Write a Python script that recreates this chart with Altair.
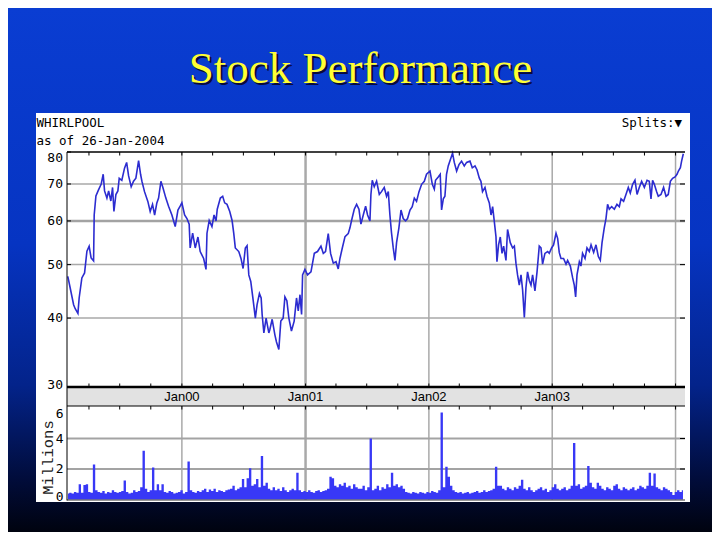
import altair as alt
import pandas as pd

# ---------------- data ----------------
# price trace: decimal year and closing price (USD)
price_t = [
    1999.075, 1999.094, 1999.122, 1999.135, 1999.157, 1999.167, 1999.189, 1999.211, 1999.230, 1999.248,
    1999.264, 1999.284, 1999.289, 1999.303, 1999.324, 1999.346, 1999.362, 1999.373, 1999.392, 1999.406,
    1999.424, 1999.438, 1999.449, 1999.465, 1999.481, 1999.492, 1999.513, 1999.535, 1999.552, 1999.568,
    1999.589, 1999.608, 1999.627, 1999.649, 1999.665, 1999.676, 1999.697, 1999.724, 1999.743, 1999.762,
    1999.779, 1999.797, 1999.811, 1999.830, 1999.846, 1999.870, 1999.892, 1999.919, 1999.946, 1999.968,
    1999.986, 2000.000, 2000.022, 2000.041, 2000.059, 2000.067, 2000.087, 2000.108, 2000.130, 2000.148,
    2000.176, 2000.195, 2000.203, 2000.221, 2000.243, 2000.260, 2000.276, 2000.286, 2000.311, 2000.330,
    2000.346, 2000.365, 2000.387, 2000.406, 2000.419, 2000.432, 2000.460, 2000.478, 2000.495, 2000.513,
    2000.527, 2000.541, 2000.557, 2000.573, 2000.594, 2000.608, 2000.627, 2000.641, 2000.649, 2000.663,
    2000.681, 2000.703, 2000.711, 2000.730, 2000.752, 2000.765, 2000.784, 2000.800, 2000.819, 2000.833,
    2000.849, 2000.865, 2000.886, 2000.908, 2000.927, 2000.941, 2000.955, 2000.968, 2000.976, 2000.995,
    2001.016, 2001.044, 2001.071, 2001.097, 2001.125, 2001.144, 2001.162, 2001.184, 2001.203, 2001.225,
    2001.247, 2001.265, 2001.279, 2001.298, 2001.320, 2001.346, 2001.360, 2001.373, 2001.395, 2001.414,
    2001.433, 2001.449, 2001.468, 2001.487, 2001.503, 2001.522, 2001.530, 2001.541, 2001.557, 2001.576,
    2001.598, 2001.616, 2001.638, 2001.657, 2001.671, 2001.684, 2001.697, 2001.711, 2001.725, 2001.738,
    2001.757, 2001.774, 2001.792, 2001.811, 2001.827, 2001.847, 2001.865, 2001.882, 2001.900, 2001.920,
    2001.941, 2001.963, 2001.981, 2002.009, 2002.028, 2002.044, 2002.054, 2002.076, 2002.092, 2002.098,
    2002.103, 2002.117, 2002.130, 2002.143, 2002.157, 2002.176, 2002.192, 2002.206, 2002.225, 2002.244,
    2002.265, 2002.287, 2002.306, 2002.333, 2002.352, 2002.374, 2002.390, 2002.409, 2002.422, 2002.435,
    2002.455, 2002.471, 2002.490, 2002.504, 2002.517, 2002.530, 2002.544, 2002.552, 2002.565, 2002.579,
    2002.593, 2002.606, 2002.625, 2002.638, 2002.660, 2002.679, 2002.693, 2002.706, 2002.719, 2002.733,
    2002.747, 2002.760, 2002.774, 2002.787, 2002.800, 2002.814, 2002.828, 2002.841, 2002.860, 2002.877,
    2002.895, 2002.909, 2002.922, 2002.941, 2002.963, 2002.976, 2002.995, 2003.011, 2003.031, 2003.044,
    2003.057, 2003.071, 2003.092, 2003.112, 2003.125, 2003.147, 2003.165, 2003.179, 2003.190, 2003.201,
    2003.220, 2003.233, 2003.246, 2003.266, 2003.282, 2003.301, 2003.315, 2003.336, 2003.355, 2003.374,
    2003.390, 2003.404, 2003.422, 2003.436, 2003.449, 2003.463, 2003.482, 2003.504, 2003.525, 2003.544,
    2003.558, 2003.579, 2003.598, 2003.617, 2003.633, 2003.652, 2003.671, 2003.688, 2003.706, 2003.725,
    2003.747, 2003.769, 2003.787, 2003.801, 2003.814, 2003.828, 2003.847, 2003.860, 2003.882, 2003.903,
    2003.923, 2003.941, 2003.958, 2003.976, 2003.996, 2004.012, 2004.023, 2004.039, 2004.049, 2004.063,
]
price_v = [
    47.6, 45.4, 42.3, 41.6, 40.8, 43.5, 47.3, 48.3, 52.9, 54.0,
    51.4, 50.8, 61.5, 66.6, 68.3, 70.0, 72.9, 68.0, 66.0, 68.0,
    65.2, 69.0, 62.4, 67.0, 68.0, 71.7, 71.1, 74.8, 76.6, 72.4,
    69.2, 70.8, 71.7, 77.2, 72.9, 70.8, 67.8, 65.1, 62.4, 64.3,
    61.5, 64.7, 66.0, 70.8, 69.0, 66.0, 63.8, 61.5, 58.6, 62.8,
    63.8, 64.7, 61.5, 60.6, 59.2, 53.6, 57.0, 53.6, 56.1, 52.8,
    51.3, 49.0, 57.0, 60.1, 58.6, 61.5, 60.0, 63.0, 66.0, 66.5,
    64.7, 64.3, 62.4, 60.1, 57.1, 53.6, 52.8, 51.3, 49.2, 53.6,
    54.1, 47.9, 46.6, 43.7, 40.0, 42.3, 44.3, 43.5, 40.6, 37.6,
    40.0, 37.6, 38.1, 39.8, 37.3, 36.2, 35.1, 39.5, 40.0, 43.7,
    43.0, 40.0, 37.9, 39.5, 43.5, 41.2, 44.1, 40.6, 47.9, 49.0,
    47.9, 48.5, 52.4, 52.8, 54.0, 52.4, 52.8, 56.9, 52.4, 50.3,
    50.6, 49.1, 51.3, 53.6, 56.2, 56.9, 58.3, 60.1, 63.0, 64.3,
    63.0, 59.2, 61.5, 63.8, 61.5, 60.0, 67.0, 71.1, 69.2, 70.8,
    67.0, 67.8, 69.0, 66.5, 67.8, 61.5, 57.1, 53.6, 50.9, 54.8,
    58.3, 62.8, 60.6, 60.0, 60.6, 62.8, 63.7, 66.0, 65.1, 67.8,
    69.9, 70.8, 72.9, 73.9, 69.9, 68.5, 71.1, 72.1, 72.9, 67.0,
    62.8, 65.8, 66.5, 72.9, 75.5, 77.7, 79.6, 76.6, 73.9, 75.9,
    77.0, 75.5, 76.6, 77.0, 74.9, 75.5, 74.3, 71.7, 70.8, 67.8,
    69.0, 66.5, 64.7, 61.5, 63.7, 60.0, 56.2, 50.6, 54.3, 56.1,
    52.4, 54.0, 50.9, 57.9, 54.8, 53.6, 54.0, 50.3, 47.9, 45.9,
    47.9, 45.0, 40.1, 45.4, 48.5, 46.8, 45.9, 47.9, 44.8, 48.5,
    54.0, 53.6, 50.1, 52.4, 52.8, 52.4, 53.6, 54.3, 57.0, 55.8,
    52.6, 51.3, 51.3, 50.1, 50.9, 49.7, 47.4, 45.9, 43.7, 47.9,
    50.6, 49.7, 52.4, 51.3, 53.6, 52.8, 54.3, 52.6, 54.3, 51.7,
    50.9, 54.8, 58.3, 60.6, 64.3, 63.0, 63.7, 63.0, 64.3, 63.7,
    65.8, 65.1, 67.0, 69.0, 67.4, 69.9, 71.1, 67.0, 69.0, 70.8,
    69.0, 71.1, 70.8, 65.8, 71.1, 69.9, 67.8, 66.5, 67.0, 69.0,
    66.5, 67.0, 70.8, 71.7, 72.1, 72.9, 73.9, 74.9, 77.0, 79.4,
]

# weekly trading volume (millions of shares), first week ending 1999-01-29
volume = [
    0.4, 0.45, 0.4, 0.5, 0.45, 1.0, 0.45, 0.95, 1.0, 0.5, 0.45, 2.3, 0.6,
    0.5, 0.45, 0.55, 0.4, 0.5, 0.45, 0.6, 0.5, 0.45, 0.5, 0.55, 1.25, 0.5,
    0.4, 0.45, 0.6, 0.5, 0.55, 0.8, 3.2, 0.7, 0.5, 0.6, 2.1, 0.6, 1.0,
    0.6, 1.0, 0.5, 0.45, 0.55, 0.5, 0.4, 0.45, 0.5, 0.6, 0.4, 0.5, 2.5,
    0.6, 0.5, 0.45, 0.55, 0.5, 0.6, 0.7, 0.5, 0.65, 0.55, 0.7, 0.5, 0.6,
    0.55, 0.5, 0.6, 0.65, 0.7, 0.9, 0.6, 0.7, 0.8, 1.35, 0.8, 1.4, 2.05,
    0.9, 1.0, 1.35, 0.8, 2.85, 0.9, 1.1, 0.7, 0.6, 0.8, 0.6, 0.7, 0.55,
    0.8, 0.6, 0.5, 0.6, 0.7, 0.6, 1.75, 0.6, 0.5, 0.55, 0.5, 0.6, 0.5,
    0.45, 0.55, 0.6, 0.5, 0.55, 0.6, 0.7, 1.5, 1.4, 0.9, 0.8, 1.0, 0.9,
    1.1, 0.8, 0.9, 0.7, 1.0, 0.8, 0.7, 0.7, 0.9, 0.6, 0.8, 4.0, 0.6,
    0.7, 0.9, 0.6, 0.8, 0.7, 1.0, 0.8, 1.75, 0.9, 1.0, 0.8, 0.9, 0.7,
    0.5, 0.45, 0.4, 0.5, 0.45, 0.4, 0.5, 0.45, 0.4, 0.5, 0.45, 0.55, 0.5,
    0.45, 0.6, 5.7, 0.8, 2.15, 1.5, 0.9, 0.6, 0.5, 0.45, 0.5, 0.4, 0.45,
    0.5, 0.4, 0.45, 0.5, 0.55, 0.45, 0.5, 0.6, 0.5, 0.55, 0.6, 0.7, 2.15,
    0.9, 0.9, 0.7, 0.6, 0.8, 0.7, 0.6, 0.8, 0.7, 0.9, 1.3, 0.7, 0.6,
    0.8, 0.6, 0.5, 0.6, 0.7, 0.8, 0.6, 0.7, 0.5, 0.6, 0.8, 1.0, 0.7,
    0.6, 0.7, 0.8, 0.6, 0.7, 0.9, 3.7, 0.9, 1.0, 0.7, 0.8, 0.9, 2.2,
    1.1, 0.8, 0.7, 1.1, 0.9, 0.7, 0.6, 0.8, 0.7, 0.6, 0.9, 1.0, 0.7,
    0.6, 0.8, 0.7, 0.6, 0.7, 0.8, 0.6, 0.7, 0.9, 0.8, 0.7, 0.9, 1.75,
    0.9, 1.7, 0.8, 0.7, 0.6, 0.8, 0.7, 0.6, 0.5, 0.3, 0.5, 0.6, 0.5,
    0.6,
]

price_ticks = [80, 70, 60, 50, 40, 30]
price_grid = [70, 50, 40]
price_grid_major = [60]
volume_ticks = [0, 2, 4, 6]
volume_grid = [2, 4]
year_dates = ["2000-01-01", "2001-01-01", "2002-01-01", "2003-01-01", "2004-01-01"]
year_labels = ["Jan00", "Jan01", "Jan02", "Jan03"]

TITLE = "Stock Performance"
TICKER = "WHIRLPOOL"
ASOF = "as of 26-Jan-2004"
SPLITS = "Splits:\u25bc"

# ---------------- tables ----------------
def dec_to_iso(t):
    y = int(t)
    nd = 366 if y % 4 == 0 else 365
    ts = pd.Timestamp(year=y, month=1, day=1) + pd.Timedelta(days=(t - y) * nd)
    return ts.strftime("%Y-%m-%dT%H:%M:%SZ")

price_df = pd.DataFrame({"date": [dec_to_iso(t) for t in price_t], "price": price_v})
vol_dates = pd.date_range("1999-01-29", periods=len(volume), freq="7D").strftime("%Y-%m-%dT00:00:00Z")
vol_df = pd.DataFrame({"date": list(vol_dates), "vol": volume})
quarters = pd.date_range("1999-04-01", "2004-01-01", freq="QS").strftime("%Y-%m-%dT00:00:00Z")
q_df = pd.DataFrame({"date": list(quarters)})
year_df = pd.DataFrame({"date": [d + "T00:00:00Z" for d in year_dates]})
year_df["major"] = [d.startswith("2001") for d in year_dates]
lab_df = pd.DataFrame({"date": [d + "T00:00:00Z" for d in year_dates[:4]], "label": year_labels})
one = pd.DataFrame({"k": [0]})

W, H = 704, 524
PX0, PX1 = 59, 677          # plot left / right
PY0, PY1 = 144, 379         # price panel top / bottom
BY1 = 398                   # band bottom
VY1 = 491.5                 # volume zero line

xscale = alt.Scale(domain=[alt.DateTime(year=1999, month=1, date=26, utc=True),
                           alt.DateTime(year=2004, month=1, date=29, utc=True)],
                   range=[PX0, PX1])
pscale = alt.Scale(type="log", domain=[30, 80], range=[PY1, PY0])
vscale = alt.Scale(domain=[0, 6], range=[VY1, 400])

X = lambda: alt.X("date:T", scale=xscale, axis=None)

# ---------------- decoration ----------------
bg = alt.Chart(one).mark_rect(
    color={"gradient": "linear", "x1": 0, "y1": 0, "x2": 0, "y2": 1,
           "stops": [{"offset": 0, "color": "#0a3dd2"},
                     {"offset": 0.45, "color": "#0634c2"},
                     {"offset": 0.72, "color": "#03238a"},
                     {"offset": 0.9, "color": "#010c3a"},
                     {"offset": 1, "color": "#00030f"}]}
).encode(x=alt.value(0), x2=alt.value(W), y=alt.value(0), y2=alt.value(H))

title_shadow = alt.Chart(one).mark_text(
    text=TITLE, font="Liberation Serif", fontSize=45, color="#0a0a3a",
    align="center", baseline="alphabetic", dx=2, dy=2
).encode(x=alt.value(352.5), y=alt.value(75))
title = alt.Chart(one).mark_text(
    text=TITLE, font="Liberation Serif", fontSize=45, color="#ffff33",
    align="center", baseline="alphabetic"
).encode(x=alt.value(352.5), y=alt.value(75))

panel = alt.Chart(one).mark_rect(color="white").encode(
    x=alt.value(28), x2=alt.value(682), y=alt.value(105), y2=alt.value(494))

mono = "DejaVu Sans Mono"
ticker = alt.Chart(one).mark_text(text=TICKER, font=mono, fontSize=12.5, color="black",
                                  align="left", baseline="alphabetic").encode(
    x=alt.value(28.5), y=alt.value(118.5))
asof = alt.Chart(one).mark_text(text=ASOF, font=mono, fontSize=12.5, color="black",
                                align="left", baseline="alphabetic").encode(
    x=alt.value(28.5), y=alt.value(137))
splits = alt.Chart(one).mark_text(text=SPLITS, font=mono, fontSize=12.5, color="black",
                                  align="right", baseline="alphabetic").encode(
    x=alt.value(674), y=alt.value(118.5))

band = alt.Chart(one).mark_rect(color="#e2e2e2").encode(
    x=alt.value(PX0), x2=alt.value(PX1), y=alt.value(PY1), y2=alt.value(BY1))

vgrid_p = alt.Chart(year_df).mark_rule(color="#a9a9a9").encode(
    x=X(), y=alt.value(PY0), y2=alt.value(PY1),
    strokeWidth=alt.condition("datum.major", alt.value(2.5), alt.value(1.5)))
vgrid_v = alt.Chart(year_df).mark_rule(color="#a9a9a9").encode(
    x=X(), y=alt.value(BY1), y2=alt.value(VY1),
    strokeWidth=alt.condition("datum.major", alt.value(2.5), alt.value(1.5)))

# ---------------- price panel ----------------
PY = lambda f: alt.Y(f, scale=pscale, axis=None)
pt_df = pd.DataFrame({"v": price_ticks})
hgrid = alt.Chart(pd.DataFrame({"v": price_grid})).mark_rule(color="#a9a9a9", strokeWidth=1.5).encode(
    y=PY("v:Q"), x=alt.value(PX0), x2=alt.value(PX1))
hgrid_major = alt.Chart(pd.DataFrame({"v": price_grid_major})).mark_rule(color="#a3a3a3", strokeWidth=2.5).encode(
    y=PY("v:Q"), x=alt.value(PX0), x2=alt.value(PX1))
line = alt.Chart(price_df).mark_line(color="#2c2cd0", strokeWidth=1.6).encode(
    x=X(), y=PY("price:Q"))
lab_font = dict(font=mono, fontSize=13, color="black", align="right", baseline="middle")
plab_mid = alt.Chart(pd.DataFrame({"v": price_ticks[1:-1]})).mark_text(**lab_font).encode(
    y=PY("v:Q"), x=alt.value(55), text="v:Q")
plab_top = alt.Chart(pd.DataFrame({"v": price_ticks[:1]})).mark_text(dy=6, **lab_font).encode(
    y=PY("v:Q"), x=alt.value(55), text="v:Q")
plab_bot = alt.Chart(pd.DataFrame({"v": price_ticks[-1:]})).mark_text(dy=-2, **lab_font).encode(
    y=PY("v:Q"), x=alt.value(55), text="v:Q")
pticks_l = alt.Chart(pt_df).mark_rule(color="black").encode(
    y=PY("v:Q"), x=alt.value(PX0), x2=alt.value(PX0 + 4))
pticks_r = alt.Chart(pd.DataFrame({"v": price_ticks[1:-1]})).mark_rule(color="black").encode(
    y=PY("v:Q"), x=alt.value(PX1 - 5), x2=alt.value(PX1))
price_layer = alt.layer(hgrid, hgrid_major, line, plab_mid, plab_top, plab_bot, pticks_l, pticks_r)

# ---------------- volume panel ----------------
VYc = lambda f: alt.Y(f, scale=vscale, axis=None)
vg = alt.Chart(pd.DataFrame({"v": volume_grid})).mark_rule(color="#a3a3a3", strokeWidth=2).encode(
    y=VYc("v:Q"), x=alt.value(PX0), x2=alt.value(PX1))
bars = alt.Chart(vol_df).mark_area(color="#3838f6", interpolate="step", opacity=1).encode(
    x=X(), y=VYc("vol:Q"))
vlab_mid = alt.Chart(pd.DataFrame({"v": volume_ticks[1:3]})).mark_text(**lab_font).encode(
    y=VYc("v:Q"), x=alt.value(55.5), text="v:Q")
vlab_top = alt.Chart(pd.DataFrame({"v": volume_ticks[3:]})).mark_text(dy=6, **lab_font).encode(
    y=VYc("v:Q"), x=alt.value(55.5), text="v:Q")
vlab_bot = alt.Chart(pd.DataFrame({"v": volume_ticks[:1]})).mark_text(dy=-2.5, **lab_font).encode(
    y=VYc("v:Q"), x=alt.value(55.5), text="v:Q")
vticks_r = alt.Chart(pd.DataFrame({"v": volume_grid})).mark_rule(color="black").encode(
    y=VYc("v:Q"), x=alt.value(PX1 - 5), x2=alt.value(PX1))
volume_layer = alt.layer(vg, bars, vlab_mid, vlab_top, vlab_bot, vticks_r)

# ---------------- frame, ticks, labels ----------------
def hline(y, w=1, color="black"):
    return alt.Chart(one).mark_rule(color=color, strokeWidth=w).encode(
        x=alt.value(PX0), x2=alt.value(PX1), y=alt.value(y))

top_border = hline(PY0, 1.5)
band_top = hline(PY1, 2.5)
band_bot = hline(BY1, 1)
vol_bot = hline(VY1 + 0.5, 1, "#333333")
left_border = alt.Chart(one).mark_rule(color="black", strokeWidth=1).encode(
    x=alt.value(PX0), y=alt.value(PY0), y2=alt.value(VY1 + 1))

qt_top = alt.Chart(q_df).mark_rule(color="black").encode(x=X(), y=alt.value(PY0), y2=alt.value(PY0 + 3.5))
qt_band_up = alt.Chart(q_df).mark_rule(color="black").encode(x=X(), y=alt.value(PY1 - 3.5), y2=alt.value(PY1))
qt_band_dn = alt.Chart(q_df).mark_rule(color="black").encode(x=X(), y=alt.value(BY1), y2=alt.value(BY1 + 3.5))

year_text = alt.Chart(lab_df).mark_text(font="Liberation Sans", fontSize=13, color="black",
                                        align="center", baseline="middle").encode(
    x=X(), y=alt.value(389), text="label:N")

millions = alt.Chart(one).mark_text(text="Millions", font="Liberation Mono", fontSize=15.5,
                                    color="#222222", angle=270, align="center",
                                    baseline="middle").encode(x=alt.value(39.5), y=alt.value(449.5))

chart = alt.layer(
    bg, title_shadow, title, panel, ticker, asof, splits, band,
    vgrid_p, vgrid_v, price_layer, volume_layer,
    top_border, band_top, band_bot, vol_bot, left_border,
    qt_top, qt_band_up, qt_band_dn, year_text, millions,
).resolve_scale(y="independent").properties(
    width=W, height=H, padding=0, autosize="none", background="#0a3dd2"
).configure_view(strokeWidth=0)

chart.save("out.html", embed_options={"renderer": "svg", "actions": False})
